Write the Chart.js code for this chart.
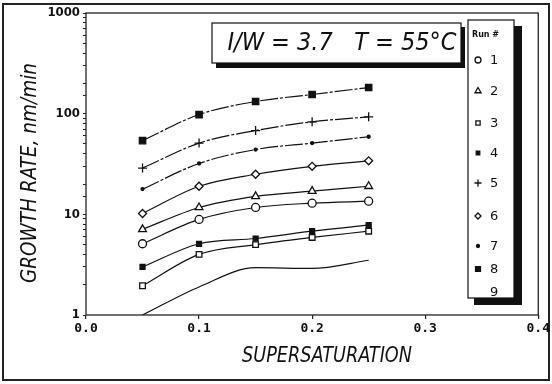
<!DOCTYPE html>
<html>
<head>
<meta charset="utf-8">
<script src="https://cdn.jsdelivr.net/npm/chart.js@4/dist/chart.umd.min.js"></script>
<style>
  html, body { margin: 0; padding: 0; background: #fff; }
  #wrap { width: 552px; height: 384px; }
</style>
</head>
<body>
<div id="wrap"><canvas id="myChart" width="552" height="384"></canvas></div>
<script>
// supersaturation values (x) and growth rate per run (nm/min)
var supersat = [0.05, 0.1, 0.15, 0.2, 0.25];
var runNames = ['1', '2', '3', '4', '5', '6', '7', '8', '9'];
var run1 = [5.1, 8.9, 11.7, 12.9, 13.5];
var run2 = [7.1, 11.7, 15.1, 17, 19];
var run3 = [1.95, 4.0, 5.0, 5.9, 6.8];
var run4 = [3.0, 5.1, 5.75, 6.8, 7.8];
var run5 = [28.8, 51, 68, 83, 93];
var run6 = [10.2, 19, 25, 30, 34];
var run7 = [17.8, 32, 44, 51, 59];
var run8 = [54, 98, 132, 155, 182];
var run9 = [1.0, 1.9, 2.95, 2.9, 3.5];
var xTicks = [0, 0.1, 0.2, 0.3, 0.4];
var yTickLabels = [1, 10, 100, 1000];

var runValues = [run1, run2, run3, run4, run5, run6, run7, run8, run9];
// marker per run: style, radius, filled
var markers = [
    {style: 'circle', r: 4, fill: false},
    {style: 'triangle', r: 4.5, fill: false},
    {style: 'rect', r: 4, fill: false},
    {style: 'rect', r: 3.5, fill: true},
    {style: 'cross', r: 4.5, fill: false},
    {style: 'rectRot', r: 4, fill: false},
    {style: 'circle', r: 1.5, fill: true},
    {style: 'rect', r: 4.5, fill: true},
    {style: false, r: 0, fill: false}
];
var dashes = [[], [], [], [], [18, 2, 3, 2], [], [18, 2, 3, 2], [18, 2, 3, 2], []];

var datasets = runValues.map(function(vals, i) {
    var m = markers[i];
    return {
        label: runNames[i],
        data: vals.map(function(v, j) { return {x: supersat[j], y: v}; }),
        borderColor: '#111',
        borderWidth: 1.2,
        borderDash: dashes[i],
        backgroundColor: m.fill ? '#111' : '#fff',
        pointStyle: m.style,
        pointRadius: m.r,
        pointBorderWidth: 1.3,
        pointBorderColor: '#111',
        pointBackgroundColor: m.fill ? '#111' : '#fff',
        cubicInterpolationMode: 'monotone',
        fill: false
    };
});

var AREA = {left: 86, right: 545, top: 13, bottom: 315};

var framePlugin = {
    id: 'frame',
    beforeDraw: function(chart) {
        var c = chart.ctx;
        c.save();
        c.fillStyle = '#fff';
        c.fillRect(0, 0, chart.width, chart.height);
        c.strokeStyle = '#222';
        c.lineWidth = 2;
        c.strokeRect(3, 4, 546, 376);
        var a = chart.chartArea;
        c.lineWidth = 1.3;
        c.strokeRect(a.left, a.top, a.right - a.left, a.bottom - a.top);
        c.restore();
    },
    afterDraw: function(chart) {
        var c = chart.ctx;
        c.save();
        c.fillStyle = '#111';
        c.textBaseline = 'middle';
        c.textAlign = 'center';
        var titleFont = 'italic 300 21px "DejaVu Sans Condensed", "Liberation Sans Narrow", sans-serif';

        // y axis title
        c.save();
        c.translate(31, 173);
        c.rotate(-Math.PI / 2);
        c.font = titleFont;
        var t = 'GROWTH RATE, nm/min';
        var w = c.measureText(t).width;
        c.scale(220 / w, 1);
        c.fillText(t, 0, 0);
        c.restore();

        // x axis title
        c.save();
        c.translate(327, 357);
        c.font = titleFont;
        t = 'SUPERSATURATION';
        w = c.measureText(t).width;
        c.scale(170 / w, 1);
        c.fillText(t, 0, 0);
        c.restore();

        // condition box with shadow
        c.fillStyle = '#111';
        c.fillRect(216, 27, 249, 41);
        c.fillStyle = '#fff';
        c.fillRect(212, 23, 249, 40);
        c.strokeStyle = '#111';
        c.lineWidth = 1.2;
        c.strokeRect(212, 23, 249, 40);
        c.save();
        c.fillStyle = '#111';
        c.translate(342, 44);
        c.font = 'italic 300 24px "DejaVu Sans Condensed", "Liberation Sans Narrow", sans-serif';
        t = 'I/W = 3.7   T = 55\u00b0C';
        w = c.measureText(t).width;
        c.scale(229 / w, 1);
        c.fillText(t, 0, 0);
        c.restore();

        // legend box with shadow
        c.fillStyle = '#111';
        c.fillRect(474, 26, 48, 279);
        c.fillStyle = '#fff';
        c.fillRect(468, 20, 46, 278);
        c.strokeRect(468, 20, 46, 278);
        c.fillStyle = '#111';
        c.font = 'bold 8px "DejaVu Sans", sans-serif';
        c.textAlign = 'left';
        c.fillText('Run #', 472, 35);
        var ys = [60, 91, 123, 153, 183, 216, 246, 269, 292];
        c.font = '13px "DejaVu Sans", sans-serif';
        for (var i = 0; i < runNames.length; i++) {
            var m = markers[i];
            if (m.style) {
                c.save();
                c.strokeStyle = '#111';
                c.fillStyle = m.fill ? '#111' : '#fff';
                c.lineWidth = 1.3;
                Chart.helpers.drawPoint(c, {pointStyle: m.style, radius: Math.max(m.r - 1, 1.5), borderWidth: 1.3}, 478, ys[i]);
                c.restore();
            }
            c.fillStyle = '#111';
            c.fillText(runNames[i], 490, ys[i] + 1);
        }
        c.restore();
    }
};

var ctx = document.getElementById('myChart').getContext('2d');
var chart = new Chart(ctx, {
    type: 'line',
    data: { datasets: datasets },
    options: {
        responsive: false,
        animation: false,
        layout: { padding: { left: 0, right: 552 - AREA.right, top: AREA.top, bottom: 0 } },
        plugins: {
            legend: { display: false },
            tooltip: { enabled: false }
        },
        scales: {
            x: {
                type: 'linear',
                min: 0,
                max: 0.4,
                afterBuildTicks: function(axis) {
                    axis.ticks = xTicks.map(function(v) { return {value: v}; });
                },
                afterFit: function(axis) { axis.height = 384 - AREA.bottom; },
                border: { display: false },
                grid: { drawOnChartArea: false, tickLength: 4, color: '#222', lineWidth: 1.2 },
                ticks: {
                    color: '#111',
                    padding: 2,
                    autoSkip: false,
                    maxRotation: 0,
                    font: { family: '"DejaVu Sans Mono", monospace', size: 13, weight: 'bold' },
                    callback: function(v) { return v.toFixed(1); }
                }
            },
            y: {
                type: 'logarithmic',
                min: 1,
                max: 1000,
                afterFit: function(axis) { axis.width = AREA.left; },
                border: { display: false },
                grid: { drawOnChartArea: false, tickLength: 3, color: '#222', lineWidth: 1 },
                ticks: {
                    color: '#111',
                    padding: 3,
                    autoSkip: false,
                    font: { family: '"Liberation Sans Narrow", "DejaVu Sans Condensed", sans-serif', size: 13, weight: 'bold' },
                    callback: function(v) { return yTickLabels.indexOf(v) >= 0 ? String(v) : ''; }
                }
            }
        }
    },
    plugins: [framePlugin]
});
</script>
</body>
</html>
